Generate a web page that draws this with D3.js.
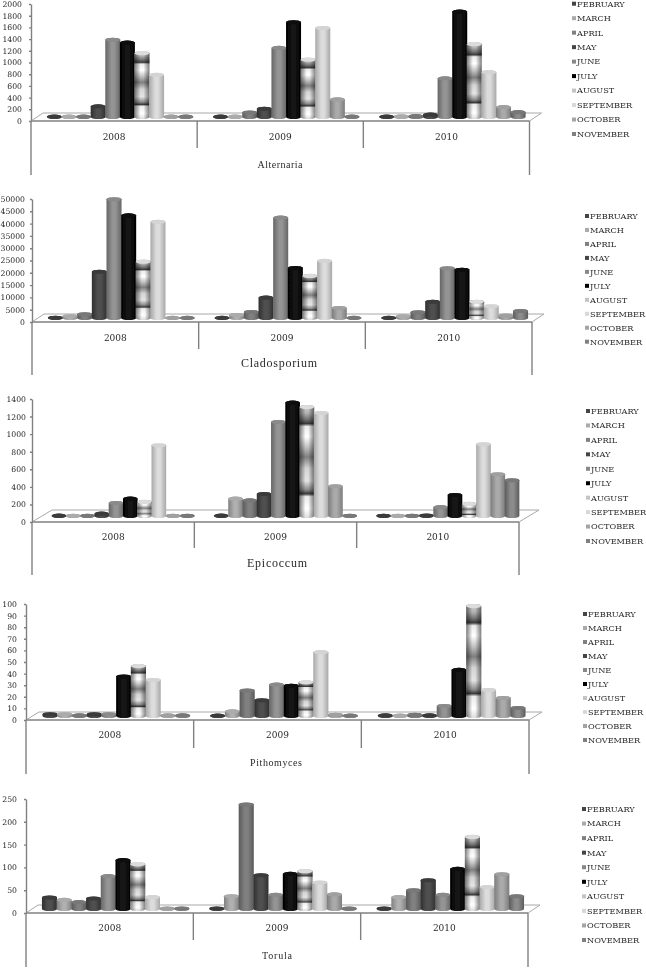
<!DOCTYPE html>
<html>
<head>
<meta charset="utf-8">
<title>Fungal spores</title>
<script src="https://cdn.jsdelivr.net/npm/d3@7"></script>
<style>
    html, body { margin: 0; padding: 0; background: #fff; overflow: hidden; }
    text { font-family: "DejaVu Serif", serif; fill: #2a2a2a; }
    .ttl { font-family: "Liberation Serif", serif; }
</style>
</head>
<body>
<svg id="chart-container" width="646" height="968"></svg>
<script>
    var months = ['FEBRUARY', 'MARCH', 'APRIL', 'MAY', 'JUNE', 'JULY', 'AUGUST', 'SEPTEMBER', 'OCTOBER', 'NOVEMBER'];
    var years = ['2008', '2009', '2010'];

    var alternaria2008 = [5, 5, 5, 180, 1320, 1270, 1090, 720, 5, 5];
    var alternaria2009 = [5, 5, 77, 140, 1180, 1620, 980, 1520, 300, 5];
    var alternaria2010 = [5, 10, 15, 40, 660, 1800, 1245, 766, 168, 82];
    var alternariaTicks = [0, 200, 400, 600, 800, 1000, 1200, 1400, 1600, 1800, 2000];

    var cladosporium2008 = [100, 700, 1500, 18800, 48250, 41700, 22900, 39100, 50, 50];
    var cladosporium2009 = [50, 1200, 2440, 8250, 40800, 20300, 17100, 23200, 4050, 50];
    var cladosporium2010 = [50, 700, 2300, 6600, 20200, 19600, 6600, 4750, 950, 2850];
    var cladosporiumTicks = [0, 5000, 10000, 15000, 20000, 25000, 30000, 35000, 40000, 45000, 50000];

    var epicoccum2008 = [4, 2, 2, 26, 148, 197, 160, 805, 2, 2];
    var epicoccum2009 = [4, 197, 178, 250, 1070, 1290, 1240, 1172, 338, 2];
    var epicoccum2010 = [3, 3, 3, 5, 100, 239, 137, 816, 475, 406];
    var epicoccumTicks = [0, 200, 400, 600, 800, 1000, 1200, 1400];

    var pithomyces2008 = [1.5, 1.5, 0.5, 1.5, 1.5, 34, 43, 31, 0.5, 0.5];
    var pithomyces2009 = [0.3, 4, 22, 13.5, 27, 26, 29, 55, 1, 0.3];
    var pithomyces2010 = [0.5, 0.3, 1, 0.5, 8.6, 39.7, 94.8, 22.4, 15.5, 6.9];
    var pithomycesTicks = [0, 10, 20, 30, 40, 50, 60, 70, 80, 90, 100];

    var torula2008 = [25, 20, 15, 23, 72, 107, 98, 26, 1, 1];
    var torula2009 = [1, 28, 229, 74, 31, 77, 83, 58, 32, 1];
    var torula2010 = [1, 26, 41, 63, 31, 88, 158, 48, 76, 28];
    var torulaTicks = [0, 50, 100, 150, 200, 250];

    // grey of each month: edge of the cylinder, middle of it, the cap
    var barEdge = ['#303030', '#808080', '#5a5a5a', '#303030', '#666666', '#000000', '#888888', '#a8a8a8', '#7c7c7c', '#5c5c5c'];
    var barMid = ['#505050', '#b0b0b0', '#808080', '#505050', '#949494', '#161616', '#ffffff', '#dcdcdc', '#aaaaaa', '#8c8c8c'];
    var barCap = ['#3a3a3a', '#ababab', '#787878', '#3a3a3a', '#8a8a8a', '#0a0a0a', '#dcdcdc', '#d4d4d4', '#a0a0a0', '#787878'];
    var legendColor = ['#444444', '#aaaaaa', '#808080', '#444444', '#888888', '#000000', '#c4c4c4', '#d8d8d8', '#a4a4a4', '#808080'];

    var panels = [
        {name: 'Alternaria', series: [alternaria2008, alternaria2009, alternaria2010], ticks: alternariaTicks, tickPad: 7,
            x0: 31, x1: 529.5, yBase: 121, yTop: 4, dx: 12, dy: 8, tickEnd: 148, axisEnd: 175, yearY: 137,
            titleX: 280, titleY: 164, titleSize: 10, titleLen: 45, legX: 572, legTop: 3.7, legBot: 134},
        {name: 'Cladosporium', series: [cladosporium2008, cladosporium2009, cladosporium2010], ticks: cladosporiumTicks, tickPad: 5,
            x0: 32, x1: 532, yBase: 322, yTop: 199, dx: 12, dy: 8, tickEnd: 349, axisEnd: 375, yearY: 338,
            titleX: 279, titleY: 363, titleSize: 12, titleLen: 76, legX: 585, legTop: 216, legBot: 341.7},
        {name: 'Epicoccum', series: [epicoccum2008, epicoccum2009, epicoccum2010], ticks: epicoccumTicks, tickPad: 4,
            x0: 32, x1: 519, yBase: 522, yTop: 399, dx: 20, dy: 12, tickEnd: 548, axisEnd: 575, yearY: 537,
            titleX: 277, titleY: 563, titleSize: 12, titleLen: 60, legX: 586, legTop: 411, legBot: 541},
        {name: 'Pithomyces', series: [pithomyces2008, pithomyces2009, pithomyces2010], ticks: pithomycesTicks, tickPad: 7,
            x0: 26, x1: 529, yBase: 720, yTop: 604, dx: 13, dy: 8, tickEnd: 748, axisEnd: 774, yearY: 735,
            titleX: 276, titleY: 762, titleSize: 10, titleLen: 52, legX: 583, legTop: 614, legBot: 740},
        {name: 'Torula', series: [torula2008, torula2009, torula2010], ticks: torulaTicks, tickPad: 7,
            x0: 26, x1: 528, yBase: 913, yTop: 799, dx: 12, dy: 8, tickEnd: 940, axisEnd: 967, yearY: 928,
            titleX: 277, titleY: 955, titleSize: 10, titleLen: 30, legX: 582, legTop: 809, legBot: 940}
    ];

    var svg = d3.select('#chart-container');
    var defs = svg.append('defs');

    defs.append('filter').attr('id', 'soft')
        .attr('filterUnits', 'userSpaceOnUse')
        .attr('x', 0).attr('y', 0).attr('width', 646).attr('height', 968)
        .append('feGaussianBlur').attr('stdDeviation', 0.5);

    function sideGradient(id, edge, mid) {
        var g = defs.append('linearGradient').attr('id', id);
        g.append('stop').attr('offset', 0).attr('stop-color', edge);
        g.append('stop').attr('offset', 0.4).attr('stop-color', mid);
        g.append('stop').attr('offset', 0.6).attr('stop-color', mid);
        g.append('stop').attr('offset', 1).attr('stop-color', edge);
    }
    months.forEach(function (m, i) {
        sideGradient('bar' + i, barEdge[i], barMid[i]);
    });

    // august is the striped one, bands stretch with the height of the bar
    var bandStops = [[0, '#d0d0d0'], [0.07, '#b4b4b4'], [0.13, '#707070'], [0.165, '#3c3c3c'], [0.19, '#ececec'], [0.28, '#ffffff'],
        [0.37, '#c4c4c4'], [0.46, '#808080'], [0.56, '#d4d4d4'], [0.67, '#e4e4e4'], [0.75, '#8c8c8c'], [0.785, '#3c3c3c'], [0.81, '#ececec'], [0.92, '#ffffff'], [1, '#dcdcdc']];
    var bands = defs.append('linearGradient').attr('id', 'augBands').attr('x1', 0).attr('y1', 0).attr('x2', 0).attr('y2', 1);
    bandStops.forEach(function (s) {
        bands.append('stop').attr('offset', s[0]).attr('stop-color', s[1]);
    });
    var shade = defs.append('linearGradient').attr('id', 'augShade');
    shade.append('stop').attr('offset', 0).attr('stop-color', '#000').attr('stop-opacity', 0.5);
    shade.append('stop').attr('offset', 0.4).attr('stop-color', '#000').attr('stop-opacity', 0);
    shade.append('stop').attr('offset', 0.6).attr('stop-color', '#000').attr('stop-opacity', 0);
    shade.append('stop').attr('offset', 1).attr('stop-color', '#000').attr('stop-opacity', 0.5);

    function cylinderPath(cx, rx, ry, top, bottom) {
        return 'M' + (cx - rx) + ',' + top + 'L' + (cx - rx) + ',' + bottom +
            'A' + rx + ',' + ry + ' 0 0 0 ' + (cx + rx) + ',' + bottom +
            'L' + (cx + rx) + ',' + top +
            'A' + rx + ',' + ry + ' 0 0 0 ' + (cx - rx) + ',' + top + 'Z';
    }

    function drawPanel(p) {
        var root = svg.append('g').attr('filter', 'url(#soft)');
        var y = d3.scaleLinear()
            .domain([0, d3.max(p.ticks)])
            .range([p.yBase, p.yTop]);
        var xYear = d3.scaleBand()
            .domain(years)
            .range([p.x0, p.x1]);
        var xMonth = d3.scaleBand()
            .domain(months)
            .range([0, xYear.bandwidth()])
            .paddingOuter(0.69);

        // floor
        root.append('path')
            .attr('d', d3.line()([[p.x0, p.yBase], [p.x0 + p.dx, p.yBase - p.dy], [p.x1 + p.dx, p.yBase - p.dy], [p.x1, p.yBase]]) + 'Z')
            .attr('fill', '#fff').attr('stroke', '#a8a8a8').attr('stroke-width', 1);

        // hanging lines below the floor
        root.append('line').attr('x1', p.x0).attr('x2', p.x1).attr('y1', p.yBase).attr('y2', p.yBase)
            .attr('stroke', '#a0a0a0').attr('stroke-width', 2.2);
        root.append('line').attr('x1', p.x0).attr('x2', p.x0).attr('y1', p.yBase).attr('y2', p.axisEnd)
            .attr('stroke', '#808080').attr('stroke-width', 1.4);
        root.append('line').attr('x1', p.x1).attr('x2', p.x1).attr('y1', p.yBase).attr('y2', p.axisEnd)
            .attr('stroke', '#808080').attr('stroke-width', 1.4);
        years.slice(1).forEach(function (yr) {
            root.append('line').attr('x1', xYear(yr)).attr('x2', xYear(yr)).attr('y1', p.yBase).attr('y2', p.tickEnd)
                .attr('stroke', '#808080').attr('stroke-width', 1.4);
        });

        // value axis
        var axis = root.append('g')
            .attr('transform', 'translate(' + p.x0 + ',0)')
            .call(d3.axisLeft(y).tickValues(p.ticks).tickFormat(d3.format('d')).tickSize(2).tickPadding(p.tickPad).tickSizeOuter(0));
        axis.selectAll('path, line').attr('stroke', '#808080').attr('stroke-width', 1.4);
        axis.selectAll('text').attr('font-size', 7.7).attr('font-family', '"DejaVu Serif", serif').attr('fill', '#1c1c1c');

        // cylinders, left to right so the next one sits over the last
        var rx = xMonth.bandwidth() / 2 + 0.2;
        var ry = 2.1;
        years.forEach(function (yr, s) {
            var grp = root.append('g')
                .attr('transform', 'translate(' + (xYear(yr) + p.dx / 2) + ',' + (-p.dy / 2) + ')');
            months.forEach(function (m, i) {
                var cx = xMonth(m) + xMonth.bandwidth() / 2;
                var top = y(p.series[s][i]);
                var bottom = y(0);
                var d = cylinderPath(cx, rx, ry, top, bottom);
                if (i === 6) {
                    grp.append('path').attr('d', d).attr('fill', 'url(#augBands)');
                    grp.append('path').attr('d', d).attr('fill', 'url(#augShade)');
                } else {
                    grp.append('path').attr('d', d).attr('fill', 'url(#bar' + i + ')');
                }
                grp.append('ellipse').attr('cx', cx).attr('cy', top).attr('rx', rx).attr('ry', ry)
                    .attr('fill', barCap[i]);
            });
        });

        // year labels
        root.selectAll('text.yr').data(years).enter().append('text')
            .attr('class', 'yr')
            .attr('x', function (d) { return xYear(d) + xYear.bandwidth() / 2; })
            .attr('y', p.yearY)
            .attr('dy', '0.35em')
            .attr('text-anchor', 'middle')
            .attr('font-size', 9)
            .text(function (d) { return d; });

        root.append('text')
            .attr('class', 'ttl')
            .attr('x', p.titleX - p.titleLen / 2)
            .attr('y', p.titleY)
            .attr('dy', '0.35em')
            .attr('font-size', p.titleSize)
            .attr('textLength', p.titleLen)
            .text(p.name);

        // legend
        var yLeg = d3.scalePoint()
            .domain(months)
            .range([p.legTop, p.legBot]);
        root.selectAll('rect.leg').data(months).enter().append('rect')
            .attr('class', 'leg')
            .attr('x', p.legX)
            .attr('y', function (d) { return yLeg(d) - 2; })
            .attr('width', 4).attr('height', 4)
            .attr('fill', function (d, i) { return legendColor[i]; });
        root.selectAll('text.leg').data(months).enter().append('text')
            .attr('class', 'leg')
            .attr('x', p.legX + 5)
            .attr('y', function (d) { return yLeg(d); })
            .attr('dy', '0.35em')
            .attr('font-size', 8.2)
            .text(function (d) { return d; });
    }

    panels.forEach(drawPanel);
</script>
</body>
</html>
